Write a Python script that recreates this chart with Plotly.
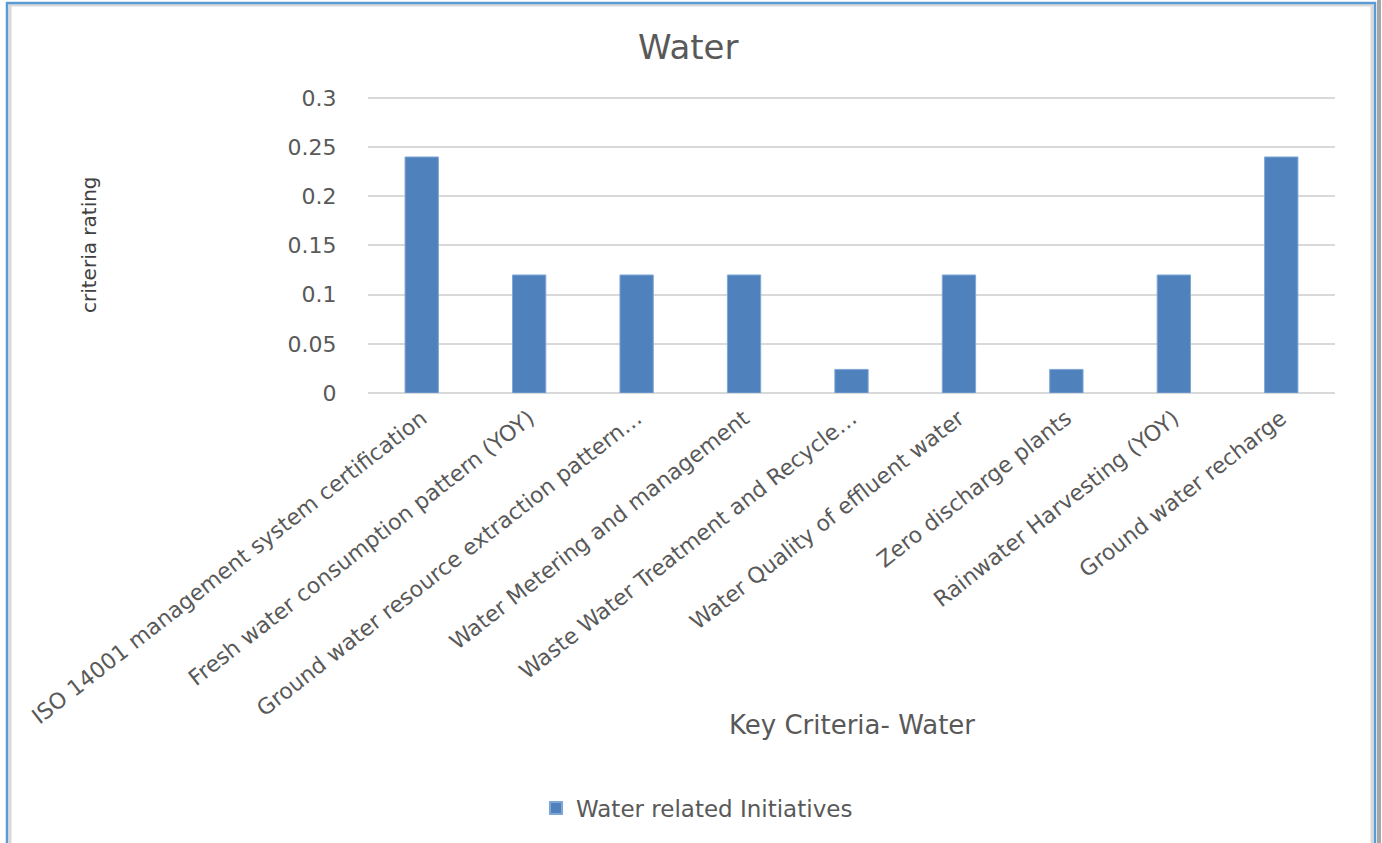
import plotly.graph_objects as go

# data
categories = [
    "ISO 14001 management system certification",
    "Fresh water consumption pattern (YOY)",
    "Ground water resource extraction pattern…",
    "Water Metering and management",
    "Waste Water Treatment and Recycle…",
    "Water Quality of effluent water",
    "Zero discharge plants",
    "Rainwater Harvesting (YOY)",
    "Ground water recharge",
]
ratings = [0.24, 0.12, 0.12, 0.12, 0.024, 0.12, 0.024, 0.12, 0.24]
y_ticks = [0, 0.05, 0.1, 0.15, 0.2, 0.25, 0.3]
y_tick_text = ["0", "0.05", "0.1", "0.15", "0.2", "0.25", "0.3"]

FONT = "DejaVu Sans"
GREY = "#595959"
W, H = 1382, 843
L, R, T, B = 368, 47, 96, 450
pw, ph = W - L - R, H - T - B


def px_x(x):
    return (x - L) / pw


def px_y(y):
    return (H - B - y) / ph


fig = go.Figure()
fig.add_trace(go.Bar(
    x=categories,
    y=ratings,
    name="Water related Initiatives",
    marker=dict(color="#4F81BD", line=dict(color="#7FA6D6", width=1)),
))

fig.update_layout(
    width=W, height=H,
    margin=dict(l=L, r=R, t=T, b=B),
    plot_bgcolor="white",
    paper_bgcolor="white",
    bargap=0.69,
    font=dict(family=FONT, color=GREY),
    title=dict(text="Water", x=0.498, xanchor="center", y=1 - 47 / H, yanchor="middle",
               font=dict(size=34, color=GREY, family=FONT)),
    xaxis=dict(tickangle=-38, tickfont=dict(size=22, color=GREY), showgrid=False,
               showline=False, ticks="outside", ticklen=3, tickcolor="white"),
    # a little headroom so the 0.3 gridline is drawn
    yaxis=dict(range=[0, 0.302], tickvals=y_ticks, ticktext=y_tick_text,
               tickfont=dict(size=22, color=GREY), gridcolor="#D9D9D9", gridwidth=1.5,
               zeroline=True, zerolinecolor="#D9D9D9", zerolinewidth=1.5,
               ticks="outside", ticklen=26, tickcolor="white"),
    showlegend=True,
    legend=dict(orientation="h", x=px_x(697), xanchor="center", y=px_y(808), yanchor="middle",
                font=dict(size=23, color=GREY), itemsizing="constant"),
)

# axis titles placed where the reference puts them
fig.add_annotation(text="criteria rating", xref="paper", yref="paper",
                   x=px_x(75), y=px_y(245), showarrow=False, textangle=-90,
                   font=dict(size=20, color="#404040", family=FONT))
fig.add_annotation(text="Key Criteria- Water", xref="paper", yref="paper",
                   x=px_x(852), y=px_y(742), showarrow=False,
                   font=dict(size=26, color=GREY, family=FONT))

# chart frame
fig.add_shape(type="rect", xref="paper", yref="paper",
              x0=px_x(10), x1=px_x(1372), y0=px_y(860), y1=px_y(5),
              line=dict(color="#D9D9D9", width=3), layer="below")
fig.add_shape(type="rect", xref="paper", yref="paper",
              x0=px_x(7), x1=px_x(1375), y0=px_y(860), y1=px_y(3),
              line=dict(color="#5B9BD5", width=2.5), layer="below")
fig.add_shape(type="line", xref="paper", yref="paper",
              x0=px_x(1379), x1=px_x(1379), y0=px_y(860), y1=px_y(0),
              line=dict(color="#A6A6A6", width=4))

fig.write_html("out.html", config={"displayModeBar": False},
               post_script="document.body.style.margin='0';")
